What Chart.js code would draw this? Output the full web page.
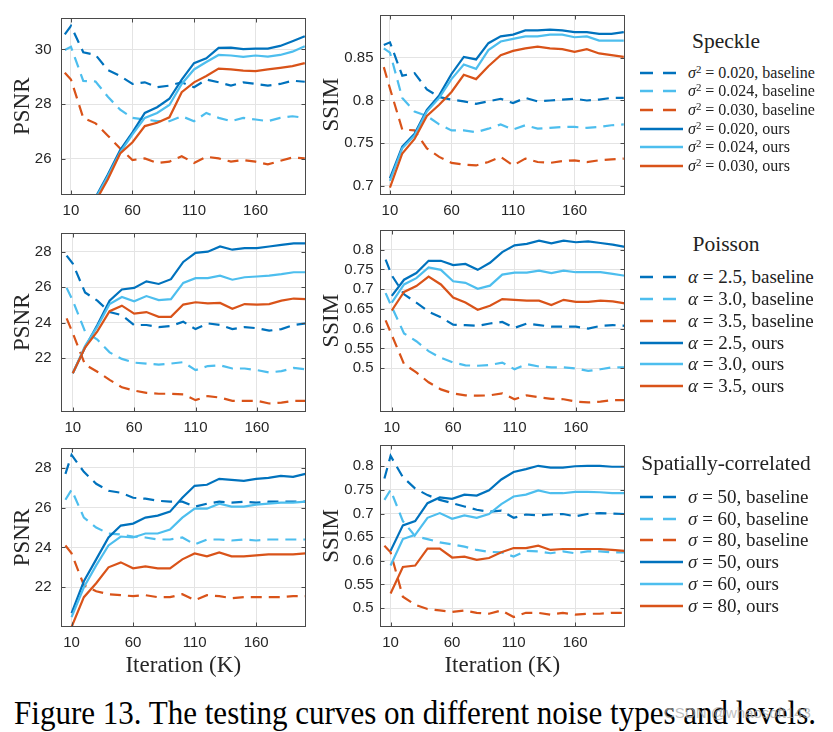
<!DOCTYPE html>
<html><head><meta charset="utf-8">
<script src="https://cdn.jsdelivr.net/npm/chart.js@4.4.1/dist/chart.umd.min.js"></script>
<style>
html,body{margin:0;padding:0;background:#fff;}
#wrap{position:relative;width:833px;height:732px;overflow:hidden;background:#fff;}
canvas{position:absolute;}
.ltitle{position:absolute;font-family:'Liberation Serif','Times New Roman',serif;color:#222;white-space:nowrap;transform:translate(-50%,-50%);}
.lrow{position:absolute;left:640px;display:flex;align-items:center;font-family:'Liberation Serif','Times New Roman',serif;color:#222;white-space:nowrap;}
.lrow svg{flex:none;margin-right:4px;}
.lrow sup{font-size:0.68em;vertical-align:0.5em;line-height:0;}
#caption{position:absolute;left:14px;top:696px;font-family:'Liberation Serif','Times New Roman',serif;font-size:34px;line-height:34px;color:#000;white-space:nowrap;transform-origin:0 0;}
#wm{position:absolute;left:664px;top:704px;font-family:'Liberation Sans',Arial,sans-serif;font-size:15px;color:rgba(170,170,170,0.75);white-space:nowrap;}
</style></head><body><div id="wrap"></div>
<script>
// ---------------- data ----------------
const iterBase = [5,10,20,30,40,50,60,70,80,90,100,110,120,130,140,150,160,170,180,190,200];
const iterOurs = [10,20,30,40,50,60,70,80,90,100,110,120,130,140,150,160,170,180,190,200];
const xTickVals = [10,60,110,160];

// Speckle
const spkPsnrB020 = [30.55,30.86,29.9,29.8,29.25,29.03,28.74,28.8,28.62,28.68,28.8,28.62,28.9,28.8,28.68,28.8,28.74,28.68,28.74,28.86,28.82];
const spkPsnrB024 = [29.98,30.1,28.85,28.83,28.27,27.8,27.5,27.44,27.38,27.38,27.56,27.38,27.68,27.5,27.38,27.5,27.44,27.38,27.5,27.56,27.5];
const spkPsnrB030 = [29.15,28.9,27.5,27.3,26.85,26.38,25.96,26.02,25.85,25.9,26.1,25.85,26.08,26.02,25.9,25.96,25.9,25.8,25.93,26.05,26.02];
const spkPsnrO020 = [22.9,23.8,24.6,25.43,26.32,26.97,27.68,27.89,28.2,28.9,29.5,29.68,30.06,30.07,30.01,30.03,30.03,30.13,30.3,30.48];
const spkPsnrO024 = [22.85,23.75,24.55,25.37,26.24,26.9,27.5,27.68,27.97,28.74,29.27,29.54,29.8,29.78,29.73,29.78,29.74,29.8,29.92,30.12];
const spkPsnrO030 = [22.7,23.6,24.45,25.26,26.2,26.61,27.2,27.32,27.52,28.44,28.8,29.03,29.3,29.27,29.23,29.21,29.27,29.33,29.39,29.5];
const spkSsimB020 = [0.865,0.868,0.829,0.832,0.813,0.804,0.801,0.799,0.796,0.799,0.802,0.797,0.803,0.799,0.8,0.801,0.802,0.8,0.801,0.803,0.803];
const spkSsimB024 = [0.861,0.856,0.803,0.787,0.782,0.772,0.765,0.765,0.763,0.767,0.772,0.766,0.771,0.767,0.768,0.769,0.769,0.768,0.769,0.771,0.772];
const spkSsimB030 = [0.839,0.814,0.766,0.765,0.744,0.734,0.727,0.725,0.724,0.728,0.734,0.724,0.732,0.728,0.727,0.729,0.73,0.728,0.73,0.731,0.732];
const spkSsimO020 = [0.709,0.746,0.761,0.789,0.806,0.831,0.851,0.848,0.867,0.875,0.877,0.882,0.882,0.883,0.882,0.88,0.88,0.878,0.878,0.88];
const spkSsimO024 = [0.706,0.744,0.759,0.787,0.803,0.825,0.842,0.837,0.859,0.869,0.872,0.875,0.875,0.877,0.877,0.874,0.875,0.87,0.87,0.87];
const spkSsimO030 = [0.698,0.738,0.755,0.782,0.795,0.81,0.83,0.825,0.84,0.853,0.858,0.861,0.863,0.861,0.86,0.857,0.86,0.855,0.853,0.851];

// Poisson
const poiPsnrB25 = [27.78,27.33,25.7,25.24,24.6,24.42,23.87,23.87,23.75,23.82,24.05,23.64,23.96,23.87,23.64,23.75,23.69,23.55,23.64,23.87,23.96];
const poiPsnrB30 = [25.96,25.24,23.5,23.05,22.33,21.96,21.75,21.7,21.64,21.7,21.78,21.33,21.56,21.6,21.42,21.42,21.33,21.2,21.27,21.45,21.38];
const poiPsnrB35 = [24.24,23.42,21.64,21.24,20.78,20.36,20.18,20.05,20.0,20.0,19.96,19.64,19.87,19.78,19.6,19.6,19.6,19.45,19.5,19.6,19.6];
const poiPsnrO25 = [21.15,22.6,23.87,25.24,25.87,25.96,26.33,26.18,26.45,27.42,27.93,28.0,28.29,28.11,28.2,28.2,28.29,28.38,28.47,28.47];
const poiPsnrO30 = [21.15,22.69,23.78,25.05,25.45,25.2,25.5,25.27,25.33,26.24,26.51,26.51,26.65,26.42,26.56,26.6,26.65,26.73,26.84,26.84];
const poiPsnrO35 = [21.15,22.6,23.51,24.65,24.96,24.51,24.6,24.33,24.33,25.02,25.15,25.09,25.11,24.78,25.05,25.02,25.05,25.24,25.36,25.33];
const poiSsimB25 = [0.775,0.735,0.687,0.666,0.643,0.629,0.61,0.609,0.607,0.613,0.617,0.602,0.613,0.609,0.605,0.605,0.605,0.6,0.607,0.609,0.607];
const poiSsimB30 = [0.69,0.655,0.588,0.568,0.543,0.526,0.514,0.507,0.506,0.508,0.514,0.497,0.51,0.504,0.502,0.502,0.499,0.493,0.497,0.502,0.502];
const poiSsimB35 = [0.621,0.584,0.51,0.489,0.464,0.446,0.436,0.431,0.43,0.431,0.436,0.421,0.431,0.426,0.422,0.421,0.415,0.413,0.415,0.419,0.419];
const poiSsimO25 = [0.683,0.724,0.741,0.772,0.772,0.761,0.764,0.749,0.767,0.794,0.811,0.815,0.823,0.816,0.823,0.819,0.821,0.817,0.813,0.807];
const poiSsimO30 = [0.666,0.712,0.728,0.755,0.749,0.72,0.716,0.701,0.709,0.737,0.742,0.742,0.747,0.741,0.747,0.743,0.743,0.743,0.739,0.734];
const poiSsimO35 = [0.646,0.693,0.708,0.732,0.712,0.679,0.666,0.648,0.658,0.675,0.673,0.671,0.671,0.66,0.673,0.668,0.668,0.671,0.669,0.664];

// Spatially-correlated
const spaPsnrB50 = [27.7,28.65,27.8,27.2,26.85,26.75,26.5,26.45,26.35,26.3,26.3,26.05,26.2,26.3,26.25,26.3,26.25,26.3,26.3,26.3,26.3];
const spaPsnrB60 = [26.4,26.9,25.5,25.0,24.7,24.65,24.55,24.5,24.4,24.4,24.5,24.15,24.4,24.4,24.35,24.4,24.35,24.4,24.4,24.4,24.4];
const spaPsnrB80 = [24.1,23.7,22.1,21.8,21.65,21.6,21.55,21.6,21.5,21.5,21.65,21.35,21.6,21.55,21.45,21.5,21.5,21.5,21.5,21.55,21.55];
const spaPsnrO50 = [20.7,22.3,23.4,24.5,25.1,25.2,25.5,25.6,25.8,26.5,27.1,27.15,27.45,27.4,27.35,27.45,27.5,27.6,27.55,27.7];
const spaPsnrO60 = [20.5,22.0,23.1,24.1,24.55,24.5,24.7,24.7,24.9,25.5,25.95,25.95,26.2,26.05,26.05,26.15,26.2,26.25,26.25,26.3];
const spaPsnrO80 = [20.0,21.5,22.2,23.0,23.25,22.95,23.05,22.95,22.95,23.4,23.7,23.55,23.75,23.55,23.55,23.6,23.65,23.65,23.65,23.7];
const spaSsimB50 = [0.774,0.822,0.777,0.753,0.739,0.729,0.722,0.715,0.708,0.704,0.706,0.691,0.698,0.696,0.698,0.699,0.694,0.699,0.701,0.7,0.699];
const spaSsimB60 = [0.729,0.75,0.684,0.652,0.646,0.639,0.635,0.63,0.623,0.619,0.618,0.609,0.621,0.62,0.616,0.62,0.616,0.62,0.62,0.618,0.618];
const spaSsimB80 = [0.632,0.618,0.524,0.507,0.498,0.495,0.492,0.495,0.49,0.488,0.495,0.481,0.49,0.49,0.486,0.49,0.486,0.488,0.488,0.49,0.49];
const spaSsimO50 = [0.621,0.675,0.684,0.722,0.734,0.731,0.74,0.738,0.749,0.772,0.788,0.794,0.801,0.797,0.797,0.8,0.801,0.801,0.799,0.799];
const spaSsimO60 = [0.59,0.646,0.655,0.691,0.701,0.689,0.696,0.691,0.699,0.72,0.736,0.74,0.749,0.743,0.743,0.746,0.746,0.745,0.743,0.743];
const spaSsimO80 = [0.531,0.587,0.59,0.626,0.626,0.607,0.609,0.602,0.606,0.618,0.627,0.627,0.632,0.623,0.625,0.625,0.625,0.625,0.623,0.621];

// axis ticks
const psnrTicksSpeckle = [26,28,30];
const psnrTicks = [22,24,26,28];
const ssimTicksSpeckle = [0.7,0.75,0.8,0.85];
const ssimTicks = [0.5,0.55,0.6,0.65,0.7,0.75,0.8];

// legend text
const speckleLevels = ['0.020','0.024','0.030'];
const poissonLevels = ['2.5','3.0','3.5'];
const spatialLevels = ['50','60','80'];

// ---------------- drawing ----------------
const C1 = '#0072BD', C2 = '#4DBEEE', C3 = '#D95319';
const colors = [C1, C2, C3];
const wrap = document.getElementById('wrap');
const tickFont = {family: "'Liberation Sans', Arial, Helvetica, sans-serif", size: 15};
const titleFont = {family: "'Liberation Serif', 'Times New Roman', serif", size: 23};

const boxPlugin = {
  id: 'boxAxes',
  afterDraw(chart) {
    const {ctx, chartArea: a, scales: {x, y}} = chart;
    ctx.save();
    ctx.strokeStyle = '#4a4a4a';
    ctx.lineWidth = 1;
    const L = Math.round(a.left) + 0.5, R = Math.round(a.right) - 0.5;
    const T = Math.round(a.top) + 0.5, B = Math.round(a.bottom) - 0.5;
    ctx.strokeRect(L, T, R - L, B - T);
    ctx.beginPath();
    x.ticks.forEach(t => {
      const p = Math.round(x.getPixelForValue(t.value)) + 0.5;
      ctx.moveTo(p, B); ctx.lineTo(p, B - 4);
      ctx.moveTo(p, T); ctx.lineTo(p, T + 4);
    });
    y.ticks.forEach(t => {
      const p = Math.round(y.getPixelForValue(t.value)) + 0.5;
      ctx.moveTo(L, p); ctx.lineTo(L + 4, p);
      ctx.moveTo(R, p); ctx.lineTo(R - 4, p);
    });
    ctx.stroke();
    ctx.restore();
  }
};

function pts(xs, ys) { return xs.map((x, i) => ({x: x, y: ys[i]})); }

function makePanel(p) {
  const cv = document.createElement('canvas');
  cv.width = p.W; cv.height = p.H;
  cv.style.left = p.L + 'px'; cv.style.top = p.T + 'px';
  wrap.appendChild(cv);
  const [x0, y0, x1, y1] = p.area;
  const datasets = [];
  p.base.forEach((arr, i) => datasets.push({
    data: pts(iterBase, arr), borderColor: colors[i], borderWidth: 2.2,
    borderDash: [11, 7], pointRadius: 0, fill: false, tension: 0, order: 3 - i + 3
  }));
  p.ours.forEach((arr, i) => datasets.push({
    data: pts(iterOurs, arr), borderColor: colors[i], borderWidth: 2.2,
    pointRadius: 0, fill: false, tension: 0, order: 3 - i
  }));
  new Chart(cv, {
    type: 'line',
    data: {datasets},
    options: {
      responsive: false, animation: false, devicePixelRatio: 1,
      layout: {padding: {left: 0, top: y0 - p.T, right: p.L + p.W - x1, bottom: 0}},
      plugins: {legend: {display: false}, tooltip: {enabled: false}},
      scales: {
        x: {
          type: 'linear', min: p.xmin, max: p.xmax,
          afterBuildTicks: s => { s.ticks = xTickVals.map(v => ({value: v})); },
          afterFit: s => { s.height = p.T + p.H - y1; },
          grid: {color: '#e4e4e4', drawTicks: false, lineWidth: 1},
          border: {display: false},
          ticks: {padding: 7, font: tickFont, color: '#262626', maxRotation: 0, autoSkip: false,
                  callback: v => String(v)},
          title: p.xTitle ? {display: true, text: 'Iteration (K)', font: titleFont, color: '#262626',
                  padding: {top: 0, bottom: 10}} : {display: false}
        },
        y: {
          type: 'linear', min: p.ymin, max: p.ymax,
          afterBuildTicks: s => { s.ticks = p.yticks.map(v => ({value: v})); },
          afterFit: s => { s.width = x0 - p.L; },
          grid: {color: '#e4e4e4', drawTicks: false, lineWidth: 1},
          border: {display: false},
          ticks: {padding: p.ypad, font: tickFont, color: '#262626', autoSkip: false,
                  callback: v => String(Number(v.toFixed(2)))},
          title: {display: true, text: p.yTitle, font: titleFont, color: '#262626',
                  padding: {top: p.ytpad, bottom: 0}}
        }
      }
    },
    plugins: [boxPlugin]
  });
}

const col1 = {L: 0, W: 320, ax0: 60.5, ax1: 306, ypad: 9, ytpad: 9};
const col2 = {L: 310, W: 325, ax0: 379.5, ax1: 625, ypad: 6, ytpad: 8};
const rows = [
  {T: 0, H: 230, ay0: 12, ay1: 194.5, xmin: 1.5, xmax: 201, xTitle: false},
  {T: 215, H: 230, ay0: 226.5, ay1: 411.5, xmin: 0, xmax: 200, xTitle: false},
  {T: 430, H: 260, ay0: 443, ay1: 627, xmin: 1, xmax: 200.5, xTitle: true}
];
const panels = [
  {c: col1, r: rows[0], yTitle: 'PSNR', ymin: 24.7, ymax: 31.15, yticks: psnrTicksSpeckle,
   base: [spkPsnrB020, spkPsnrB024, spkPsnrB030], ours: [spkPsnrO020, spkPsnrO024, spkPsnrO030]},
  {c: col2, r: rows[0], yTitle: 'SSIM', ymin: 0.69, ymax: 0.90, yticks: ssimTicksSpeckle,
   base: [spkSsimB020, spkSsimB024, spkSsimB030], ours: [spkSsimO020, spkSsimO024, spkSsimO030]},
  {c: col1, r: rows[1], yTitle: 'PSNR', ymin: 19.0, ymax: 29.05, yticks: psnrTicks,
   base: [poiPsnrB25, poiPsnrB30, poiPsnrB35], ours: [poiPsnrO25, poiPsnrO30, poiPsnrO35]},
  {c: col2, r: rows[1], yTitle: 'SSIM', ymin: 0.39, ymax: 0.85, yticks: ssimTicks,
   base: [poiSsimB25, poiSsimB30, poiSsimB35], ours: [poiSsimO25, poiSsimO30, poiSsimO35]},
  {c: col1, r: rows[2], yTitle: 'PSNR', ymin: 20.0, ymax: 29.0, yticks: psnrTicks,
   base: [spaPsnrB50, spaPsnrB60, spaPsnrB80], ours: [spaPsnrO50, spaPsnrO60, spaPsnrO80]},
  {c: col2, r: rows[2], yTitle: 'SSIM', ymin: 0.46, ymax: 0.845, yticks: ssimTicks,
   base: [spaSsimB50, spaSsimB60, spaSsimB80], ours: [spaSsimO50, spaSsimO60, spaSsimO80]}
];
panels.forEach(q => makePanel({
  L: q.c.L, W: q.c.W, T: q.r.T, H: q.r.H,
  area: [q.c.ax0, q.r.ay0, q.c.ax1, q.r.ay1],
  xmin: q.r.xmin, xmax: q.r.xmax, xTitle: q.r.xTitle,
  ymin: q.ymin, ymax: q.ymax, yticks: q.yticks, yTitle: q.yTitle,
  ypad: q.c.ypad, ytpad: q.c.ytpad, base: q.base, ours: q.ours
}));

// ---------------- legends (HTML text) ----------------
function sample(color, dashed) {
  const dash = dashed ? ' stroke-dasharray="13,10"' : '';
  const x2 = dashed ? 36 : 43;
  return `<svg width="44" height="6" viewBox="0 0 44 6"><line x1="0" y1="3" x2="${x2}" y2="3" stroke="${color}" stroke-width="2.6"${dash}/></svg>`;
}
function makeLegend(title, titleY, rowYs, fs, symHtml, levels) {
  const t = document.createElement('div');
  t.className = 'ltitle'; t.style.left = '726px'; t.style.top = titleY + 'px';
  t.style.fontSize = '21.5px'; t.textContent = title;
  wrap.appendChild(t);
  const labels = [];
  levels.forEach((lv, i) => labels.push({c: colors[i], d: true, txt: `${symHtml} = ${lv}, baseline`}));
  levels.forEach((lv, i) => labels.push({c: colors[i], d: false, txt: `${symHtml} = ${lv}, ours`}));
  labels.forEach((it, i) => {
    const r = document.createElement('div');
    r.className = 'lrow';
    r.style.height = '20px';
    r.style.top = (rowYs[i] - 10) + 'px';
    r.style.fontSize = fs + 'px';
    r.innerHTML = sample(it.c, it.d) + `<span>${it.txt}</span>`;
    wrap.appendChild(r);
  });
}
makeLegend('Speckle', 41, [72.7, 91.3, 110, 128.5, 147, 165.7], 16,
  '<i>σ</i><sup>2</sup>', speckleLevels);
makeLegend('Poisson', 244, [277.3, 299, 320.7, 342.7, 364.3, 386], 19,
  '<i>α</i>', poissonLevels);
makeLegend('Spatially-correlated', 463, [496.7, 518.7, 540, 562, 584, 605.7], 19,
  '<i>σ</i>', spatialLevels);

// ---------------- caption ----------------
const cap = document.createElement('div');
cap.id = 'caption';
cap.textContent = 'Figure 13. The testing curves on different noise types and levels.';
wrap.appendChild(cap);
const cw = cap.getBoundingClientRect().width;
cap.style.transform = `scaleX(${802 / cw})`;
const wm = document.createElement('div');
wm.id = 'wm'; wm.textContent = 'CSDN @whaosoft143';
wrap.appendChild(wm);
</script>
</body></html>
